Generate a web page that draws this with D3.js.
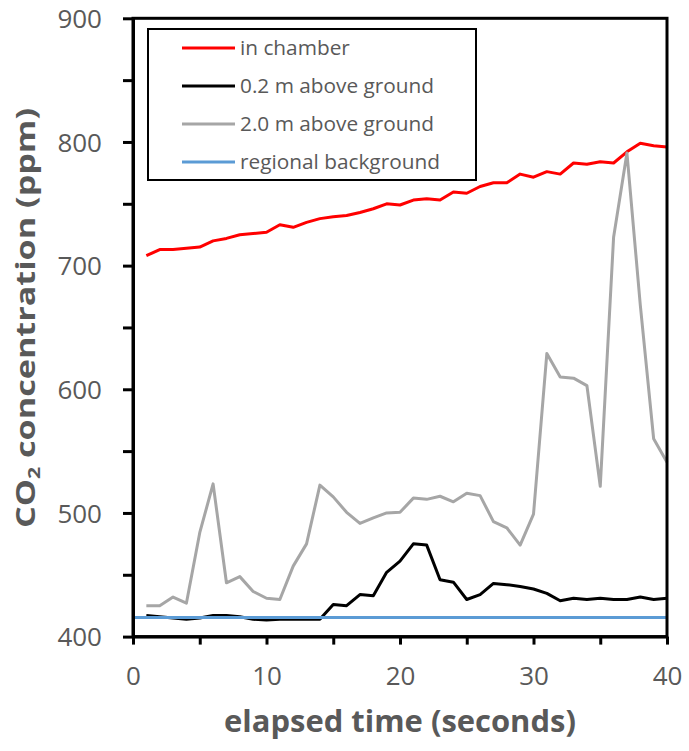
<!DOCTYPE html>
<html>
<head>
<meta charset="utf-8">
<script src="https://cdn.jsdelivr.net/npm/d3@7"></script>
<style>
  body { margin: 0; background: #fff; }
  svg { display: block; }
</style>
</head>
<body>
<svg width="689" height="751"></svg>
<script>
// elapsed time (s)
const seconds = [1, 2, 3, 4, 5, 6, 7, 8, 9, 10, 11, 12, 13, 14, 15, 16, 17, 18, 19, 20,
    21, 22, 23, 24, 25, 26, 27, 28, 29, 30, 31, 32, 33, 34, 35, 36, 37, 38, 39, 40];

// CO2 (ppm)
const inChamber = [708, 713, 713, 714, 715, 720, 722, 725, 726, 727, 733, 731, 735, 738, 739.5, 740.5, 743, 746, 750, 749,
    753, 754, 753, 759.5, 758.5, 764, 767, 767, 774, 771.5, 776, 774, 783, 782, 784, 783, 792, 799, 797, 796];
const above02 = [417, 416, 415, 414, 415, 417, 417, 416, 414, 413.5, 414, 414, 414, 414, 426, 425, 434, 433, 452, 461,
    475, 474, 446, 444, 430, 434, 443, 442, 440.5, 438.5, 435, 429, 431, 430, 431, 430, 430, 432, 430, 431];
const above20 = [425, 425, 432, 427, 484, 523.5, 443.5, 448.5, 436.5, 431, 430, 457, 475, 522.5, 513, 500.5, 491.5, 496, 500, 500.5,
    512, 511, 513.5, 509, 516, 514, 493, 488, 474, 499, 629, 610, 609, 603, 521.5, 723, 791, 668, 560, 541];
const regionalBackground = 415.5;

const seriesNames = ["in chamber", "0.2 m above ground", "2.0 m above ground", "regional background"];
const seriesColors = ["#ff0000", "#000000", "#a6a6a6", "#5b9bd5"];

const xTicks = [0, 5, 10, 15, 20, 25, 30, 35, 40];
const yTicks = [400, 450, 500, 550, 600, 650, 700, 750, 800, 850, 900];

const svg = d3.select("svg"),
    plotLeft = 133, plotRight = 667, plotTop = 18.3, plotBottom = 636.6,
    textColor = "#595959",
    font = "'Open Sans', 'Noto Sans', sans-serif";

const x = d3.scaleLinear().domain([0, 40]).range([plotLeft, plotRight]);
const y = d3.scaleLinear().domain([400, 900]).range([plotBottom, plotTop]);

function fitWidth(sel, w) {
    let cur = sel.node().getComputedTextLength();
    let fs = parseFloat(sel.attr("font-size"));
    sel.attr("font-size", fs * w / cur);
}

// series, in drawing order (last on top)
const line = d3.line().x(d => x(d[0])).y(d => y(d[1]));
const lines = [
    d3.zip(seconds, inChamber),
    d3.zip(seconds, above02),
    d3.zip(seconds, above20),
    [[0, regionalBackground], [40, regionalBackground]]
];

lines.forEach((pts, i) => {
    svg.append("path")
        .attr("d", line(pts))
        .attr("fill", "none")
        .attr("stroke", seriesColors[i])
        .attr("stroke-width", 3)
        .attr("stroke-linejoin", "round");
});

// frame
svg.append("rect")
    .attr("x", plotLeft).attr("y", plotTop)
    .attr("width", plotRight - plotLeft).attr("height", plotBottom - plotTop)
    .attr("fill", "none")
    .attr("stroke", "#000")
    .attr("stroke-width", 3);

// axes
const axisY = d3.axisLeft(y)
    .tickValues(yTicks)
    .tickSize(10)
    .tickSizeOuter(0)
    .tickPadding(21)
    .tickFormat(d => d % 100 === 0 ? d : "");

const axisX = d3.axisBottom(x)
    .tickValues(xTicks)
    .tickSize(8)
    .tickSizeOuter(0)
    .tickPadding(22)
    .tickFormat(d => d % 10 === 0 ? d : "");

const gy = svg.append("g").attr("transform", `translate(${plotLeft},0)`).call(axisY);
const gx = svg.append("g").attr("transform", `translate(0,${plotBottom})`).call(axisX);

[gx, gy].forEach(g => {
    g.select(".domain").attr("stroke", "#000").attr("stroke-width", 3);
    g.selectAll(".tick line").attr("stroke", "#000").attr("stroke-width", 3);
    g.selectAll(".tick text")
        .attr("fill", textColor)
        .attr("font-family", font)
        .attr("font-size", 26);
});
gy.selectAll(".tick text").attr("dy", "0.36em");
gx.selectAll(".tick text").attr("dy", "0.71em");

// axis titles
const xTitle = svg.append("text")
    .attr("x", (plotLeft + plotRight) / 2)
    .attr("y", 732)
    .attr("text-anchor", "middle")
    .attr("font-family", font)
    .attr("font-weight", "bold")
    .attr("font-size", 30)
    .attr("fill", textColor)
    .text("elapsed time (seconds)");
fitWidth(xTitle, 352);

// bold and narrow like the original, so squeeze to length instead of growing the size
const yTitle = svg.append("text")
    .attr("transform", "translate(35,318) rotate(-90)")
    .attr("text-anchor", "middle")
    .attr("font-family", font)
    .attr("font-weight", "bold")
    .attr("font-size", 27)
    .attr("fill", textColor)
    .attr("textLength", 420)
    .attr("lengthAdjust", "spacingAndGlyphs");
yTitle.append("tspan").text("CO");
yTitle.append("tspan").attr("font-size", "0.62em").attr("dy", "0.3em").text("2");
yTitle.append("tspan").attr("dy", "-0.19em").text(" concentration (ppm)");

// legend
const legend = svg.append("g");
legend.append("rect")
    .attr("x", 148).attr("y", 29)
    .attr("width", 328).attr("height", 151)
    .attr("fill", "#fff")
    .attr("stroke", "#000")
    .attr("stroke-width", 2);

const rowY = d3.scalePoint().domain(seriesNames).range([48, 162]);

seriesNames.forEach((name, i) => {
    legend.append("line")
        .attr("x1", 182).attr("x2", 235)
        .attr("y1", rowY(name)).attr("y2", rowY(name))
        .attr("stroke", seriesColors[i])
        .attr("stroke-width", 3);
});

const legendText = legend.selectAll(".ltext")
    .data(seriesNames)
    .enter()
    .append("text")
    .attr("class", "ltext")
    .attr("x", 240)
    .attr("y", d => rowY(d))
    .attr("dy", "0.35em")
    .attr("font-family", font)
    .attr("font-size", 21)
    .attr("fill", textColor)
    .text(d => d);

// size all legend labels from the longest one
let longest = legendText.filter(d => d === "regional background");
let w = longest.node().getComputedTextLength();
legendText.attr("font-size", 21 * 200 / w);
</script>
</body>
</html>
